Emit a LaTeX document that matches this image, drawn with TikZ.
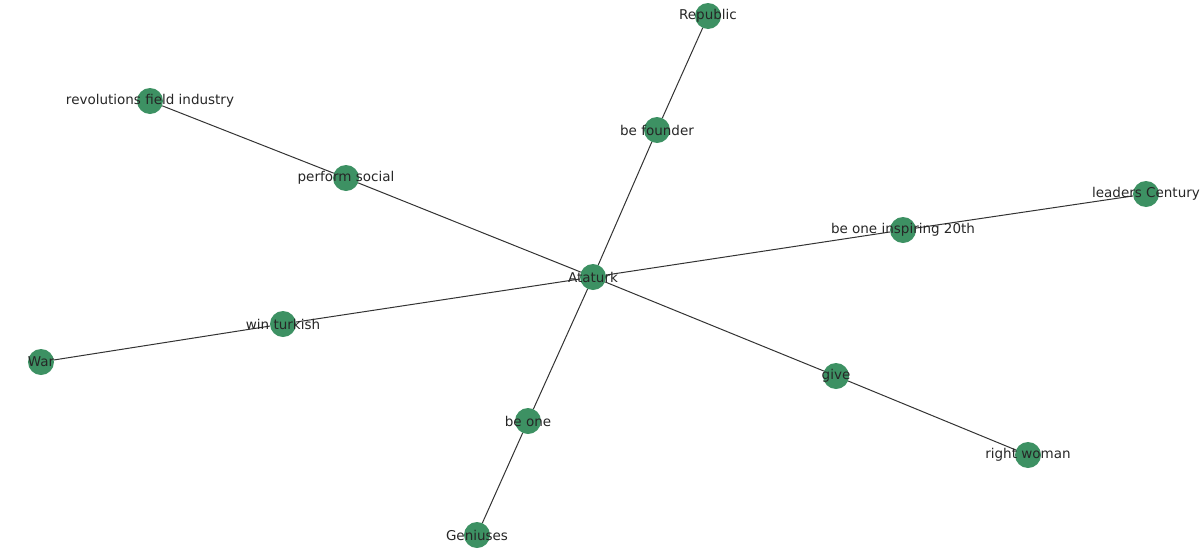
\documentclass[tikz,border=0pt]{standalone}
\usepackage{fontspec}
\setmainfont{DejaVu Sans}
\usetikzlibrary{positioning,backgrounds}
\definecolor{nodegreen}{HTML}{3D9163}
\definecolor{edgegray}{HTML}{333333}
\tikzset{
  dot/.style={circle, fill=nodegreen, minimum size=26pt, inner sep=0pt},
  lbl/.style={font=\fontsize{13.5}{15}\selectfont, text=black!85, inner sep=0pt},
  link/.style={draw=edgegray, line width=1pt}
}

\begin{document}
\begin{tikzpicture}[x=1pt, y=-1pt]
			\useasboundingbox (0,0) rectangle (1200,552);
			\node [dot] (ataturk) at (593,277) {};
			\node [dot] (republic) at (708,16) {};
			\node [dot] (founder) at (657,130) {};
			\node [dot] (revolutions) at (150,101) {};
			\node [dot] (social) at (346,178) {};
			\node [dot] (leaders) at (1146,194) {};
			\node [dot] (inspiring) at (903,230) {};
			\node [dot] (turkish) at (283,324) {};
			\node [dot] (war) at (41,362) {};
			\node [dot] (give) at (836,376) {};
			\node [dot] (woman) at (1028,455) {};
			\node [dot] (beone) at (528,421) {};
			\node [dot] (geniuses) at (477,535) {};
			\begin{scope}[on background layer]
				\draw [link] (ataturk) -- (founder) -- (republic);
				\draw [link] (ataturk) -- (social) -- (revolutions);
				\draw [link] (ataturk) -- (inspiring) -- (leaders);
				\draw [link] (ataturk) -- (turkish) -- (war);
				\draw [link] (ataturk) -- (give) -- (woman);
				\draw [link] (ataturk) -- (beone) -- (geniuses);
			\end{scope}
			\node [lbl] at (ataturk) {Ataturk};
			\node [lbl] at (republic) {Republic};
			\node [lbl] at (founder) {be founder};
			\node [lbl] at (revolutions) {revolutions field industry};
			\node [lbl] at (social) {perform social};
			\node [lbl] at (leaders) {leaders Century};
			\node [lbl] at (inspiring) {be one inspiring 20th};
			\node [lbl] at (turkish) {win turkish};
			\node [lbl] at (war) {War};
			\node [lbl] at (give) {give};
			\node [lbl] at (woman) {right woman};
			\node [lbl] at (beone) {be one};
			\node [lbl] at (geniuses) {Geniuses};
		\end{tikzpicture}
\end{document}
